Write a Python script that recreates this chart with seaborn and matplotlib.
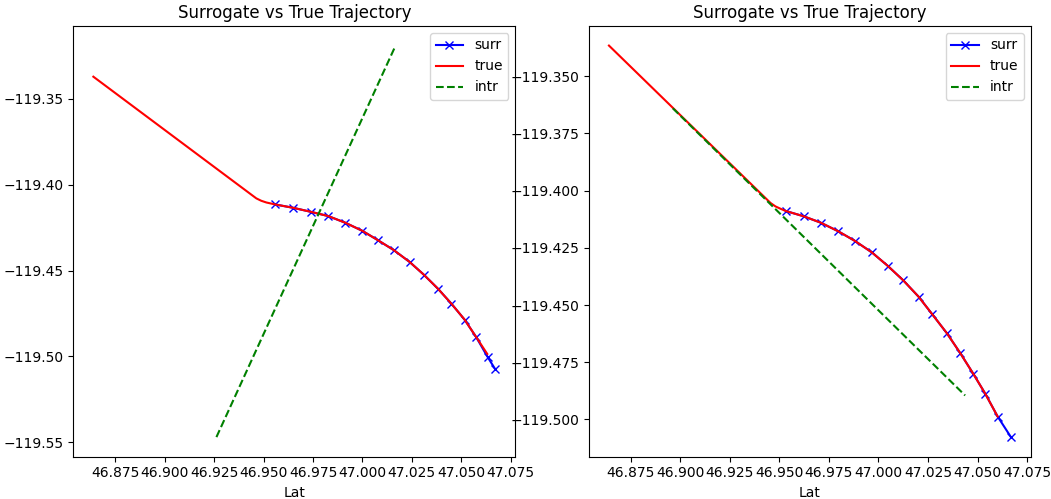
import matplotlib
matplotlib.use("Agg")
import matplotlib.pyplot as plt
import seaborn as sns

# ---- Run A (left panel) ----
a_surr_lat = [46.9557, 46.9650, 46.9738, 46.9827, 46.9914, 47.0000, 47.0078, 47.0159,
              47.0239, 47.0310, 47.0382, 47.0450, 47.0517, 47.0576, 47.0634, 47.0673]
a_surr_lon = [-119.4115, -119.4135, -119.4158, -119.4183, -119.4222, -119.4269, -119.4323, -119.4381,
              -119.4450, -119.4523, -119.4605, -119.4692, -119.4785, -119.4887, -119.5003, -119.5075]
a_true_lat = [46.8638, 46.9463, 46.9488, 46.9514,
              46.9557, 46.9650, 46.9738, 46.9827, 46.9914, 47.0000, 47.0078, 47.0159,
              47.0239, 47.0310, 47.0382, 47.0450, 47.0517, 47.0576, 47.0632]
a_true_lon = [-119.3372, -119.4080, -119.4094, -119.4104,
              -119.4115, -119.4135, -119.4158, -119.4183, -119.4222, -119.4269, -119.4323, -119.4381,
              -119.4450, -119.4523, -119.4605, -119.4692, -119.4785, -119.4887, -119.4985]
a_intr_lat = [46.9261, 47.0168]
a_intr_lon = [-119.5469, -119.3191]

# ---- Run B (right panel) ----
b_surr_lat = [46.9533, 46.9623, 46.9709, 46.9796, 46.9882, 46.9967, 47.0046, 47.0125,
              47.0202, 47.0272, 47.0345, 47.0411, 47.0478, 47.0539, 47.0601, 47.0668]
b_surr_lon = [-119.4089, -119.4112, -119.4140, -119.4177, -119.4220, -119.4270, -119.4328, -119.4392,
              -119.4463, -119.4541, -119.4623, -119.4708, -119.4800, -119.4888, -119.4987, -119.5077]
b_true_lat = [46.8641, 46.9456, 46.9481, 46.9506,
              46.9533, 46.9623, 46.9709, 46.9796, 46.9882, 46.9967, 47.0046, 47.0125,
              47.0202, 47.0272, 47.0345, 47.0411, 47.0478, 47.0539, 47.0601]
b_true_lon = [-119.3366, -119.4054, -119.4069, -119.4079,
              -119.4089, -119.4112, -119.4140, -119.4177, -119.4220, -119.4270, -119.4328, -119.4392,
              -119.4463, -119.4541, -119.4623, -119.4708, -119.4800, -119.4888, -119.4987]
b_intr_lat = [46.8963, 47.0437]
b_intr_lon = [-119.3640, -119.4895]

TITLE = "Surrogate vs True Trajectory"


def draw_panel(ax, surr, true, intr):
    sns.lineplot(x=surr[0], y=surr[1], ax=ax, color="b", marker="x",
                 markeredgecolor="b", markeredgewidth=1.0, markersize=6,
                 linewidth=1.5, sort=False, estimator=None, label="surr")
    sns.lineplot(x=true[0], y=true[1], ax=ax, color="r", linewidth=1.5,
                 sort=False, estimator=None, label="true")
    sns.lineplot(x=intr[0], y=intr[1], ax=ax, color="g", linestyle="--",
                 linewidth=1.5, sort=False, estimator=None, label="intr")
    ax.set_title(TITLE, fontsize=12)
    ax.set_xlabel("Lat")
    ax.set_ylabel("")
    ax.ticklabel_format(useOffset=False)
    ax.legend(loc="upper right")


fig, axes = plt.subplots(1, 2, figsize=(10.51, 4.99), dpi=100)
fig.subplots_adjust(left=0.0697, right=0.981, bottom=0.0848, top=0.9479, wspace=0.166)

draw_panel(axes[0], (a_surr_lat, a_surr_lon), (a_true_lat, a_true_lon), (a_intr_lat, a_intr_lon))
draw_panel(axes[1], (b_surr_lat, b_surr_lon), (b_true_lat, b_true_lon), (b_intr_lat, b_intr_lon))

fig.savefig("out.png", dpi=100)
